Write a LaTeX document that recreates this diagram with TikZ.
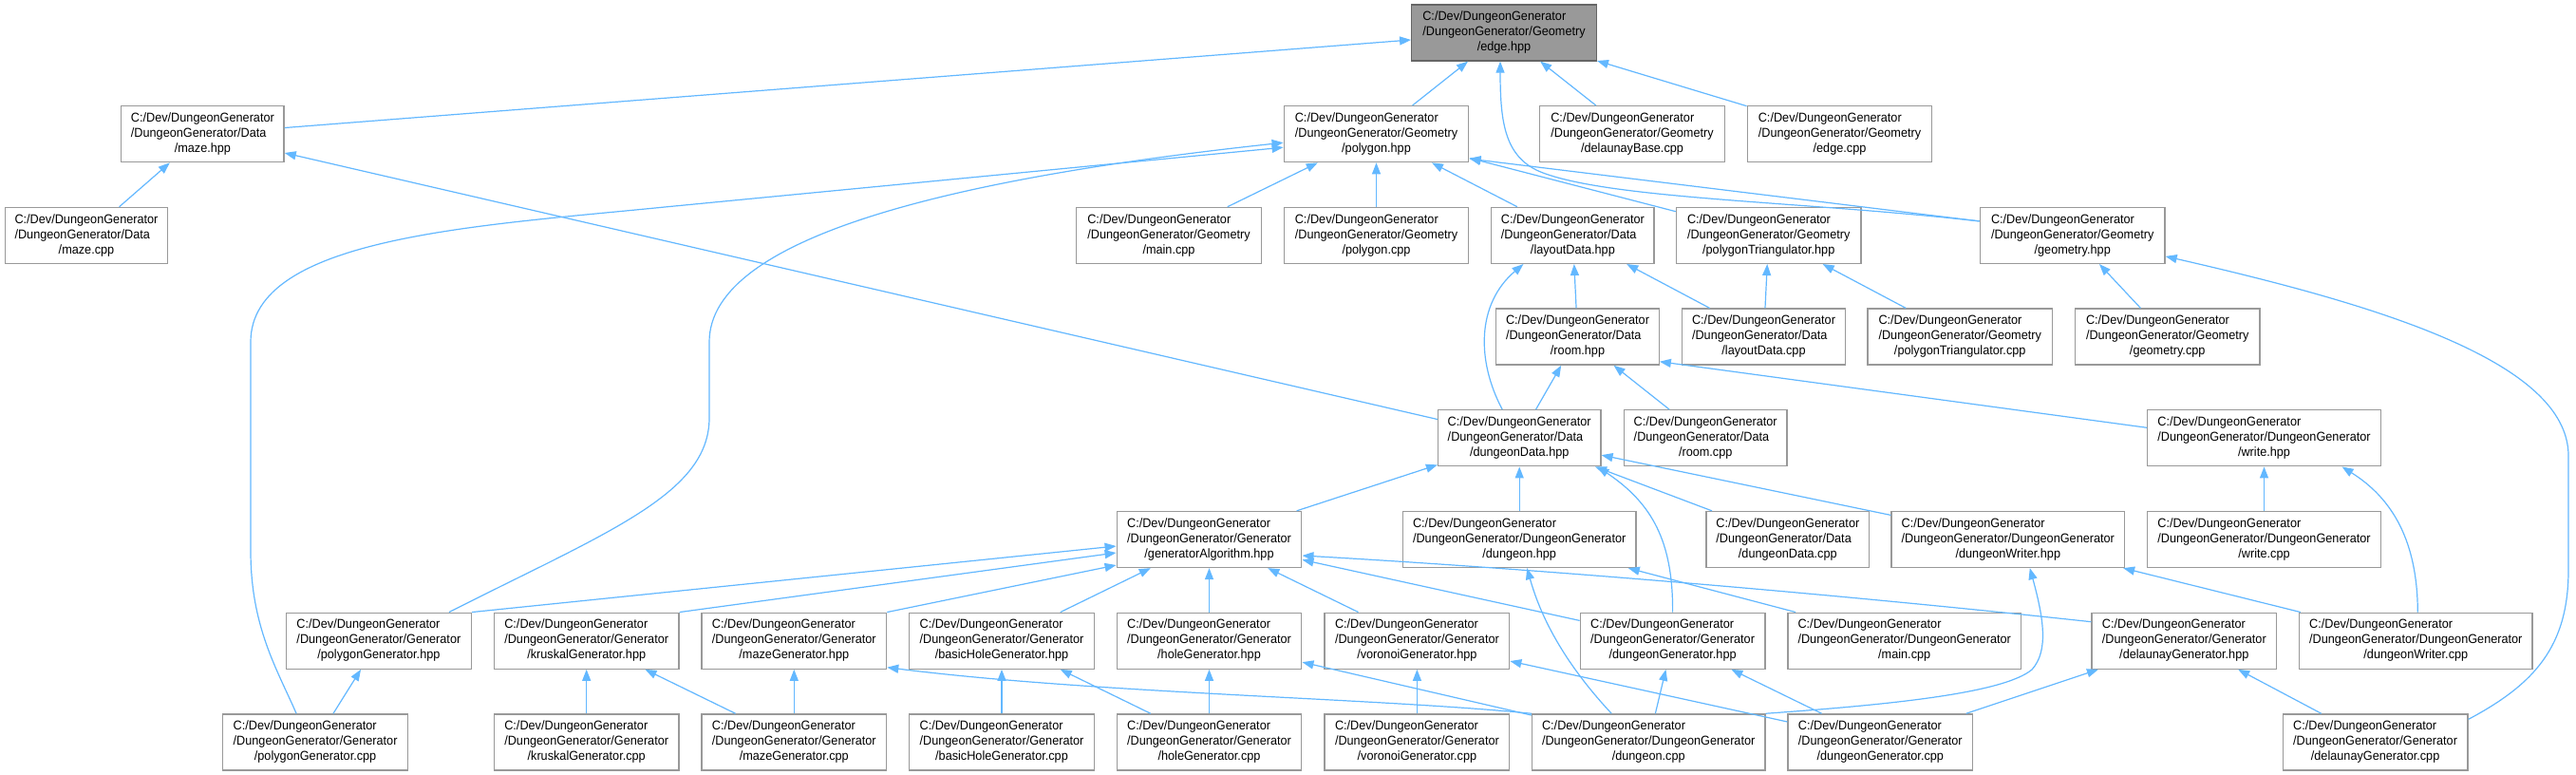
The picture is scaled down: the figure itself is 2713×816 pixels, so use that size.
\documentclass[tikz,border=0pt]{standalone}
\usepackage{fontspec}
\newfontfamily\dxfont[FakeStretch=0.94]{Liberation Sans}
\usetikzlibrary{arrows.meta}
\definecolor{edgeblue}{HTML}{63B8FF}
\definecolor{boxline}{HTML}{999999}
\definecolor{rootfill}{HTML}{999999}
\definecolor{rootline}{HTML}{666666}
\newcommand{\lab}[3]{\begin{tabular}{@{}l@{}}#1\\#2\\\multicolumn{1}{@{}c@{}}{#3}\end{tabular}}
\newcommand{\lgeo}[1]{\lab{C:/Dev/DungeonGenerator}{/DungeonGenerator/Geometry}{#1}}
\newcommand{\ldat}[1]{\lab{C:/Dev/DungeonGenerator}{/DungeonGenerator/Data}{#1}}
\newcommand{\lgen}[1]{\lab{C:/Dev/DungeonGenerator}{/DungeonGenerator/Generator}{#1}}
\newcommand{\ldg}[1]{\lab{C:/Dev/DungeonGenerator}{/DungeonGenerator/DungeonGenerator}{#1}}
\begin{document}
\begin{tikzpicture}[x=1pt,y=-1pt,
  box/.style={draw=boxline, line width=1.3pt, fill=white, minimum height=59pt, inner sep=0pt,
    font=\dxfont\fontsize{13.5}{16}\selectfont, text=black},
  bg/.style={box, minimum width=194.6pt},
  bd/.style={box, minimum width=171.4pt},
  bw/.style={box, minimum width=245.5pt},
  root/.style={fill=rootfill, draw=rootline},
  dep/.style={draw=edgeblue, line width=1.2pt, -{Triangle[length=12pt,width=9pt]}}]
\useasboundingbox[fill=white] (0,0) rectangle (2713,816);
% row 0
\node[bg,root] (edge) at (1584,34.5) {\lgeo{/edge.hpp}};
% row 1
\node[bd] (maze) at (213.4,141.2) {\ldat{/maze.hpp}};
\node[bg] (polygon) at (1449.5,141.2) {\lgeo{/polygon.hpp}};
\node[bg] (delaunayBase) at (1719,141.2) {\lgeo{/delaunayBase.cpp}};
\node[bg] (edgecpp) at (1937.5,141.2) {\lgeo{/edge.cpp}};
% row 2
\node[bd] (mazecpp) at (91,247.9) {\ldat{/maze.cpp}};
\node[bg] (gmain) at (1231,247.9) {\lgeo{/main.cpp}};
\node[bg] (polygoncpp) at (1449.5,247.9) {\lgeo{/polygon.cpp}};
\node[bd] (layout) at (1656.4,247.9) {\ldat{/layoutData.hpp}};
\node[bg] (polytri) at (1862.7,247.9) {\lgeo{/polygonTriangulator.hpp}};
\node[bg] (geometry) at (2182.7,247.9) {\lgeo{/geometry.hpp}};
% row 3
\node[bd] (room) at (1661.5,354.6) {\ldat{/room.hpp}};
\node[bd] (layoutcpp) at (1857.5,354.6) {\ldat{/layoutData.cpp}};
\node[bg] (polytricpp) at (2064.2,354.6) {\lgeo{/polygonTriangulator.cpp}};
\node[bg] (geometrycpp) at (2282.7,354.6) {\lgeo{/geometry.cpp}};
% row 4
\node[bd] (ddata) at (1600.2,461.3) {\ldat{/dungeonData.hpp}};
\node[bd] (roomcpp) at (1796.2,461.3) {\ldat{/room.cpp}};
\node[bw] (write) at (2384.5,461.3) {\ldg{/write.hpp}};
% row 5
\node[bg] (genalg) at (1273.5,568) {\lgen{/generatorAlgorithm.hpp}};
\node[bw] (dungeon) at (1600.2,568) {\ldg{/dungeon.hpp}};
\node[bd] (ddatacpp) at (1882.8,568) {\ldat{/dungeonData.cpp}};
\node[bw] (dwriter) at (2114.8,568) {\ldg{/dungeonWriter.hpp}};
\node[bw] (writecpp) at (2384.5,568) {\ldg{/write.cpp}};
% row 6
\node[bg] (polygen) at (398.9,674.7) {\lgen{/polygonGenerator.hpp}};
\node[bg] (kruskal) at (617.7,674.7) {\lgen{/kruskalGenerator.hpp}};
\node[bg] (mazegen) at (836.3,674.7) {\lgen{/mazeGenerator.hpp}};
\node[bg] (basichole) at (1055,674.7) {\lgen{/basicHoleGenerator.hpp}};
\node[bg] (hole) at (1273.5,674.7) {\lgen{/holeGenerator.hpp}};
\node[bg] (voronoi) at (1492.4,674.7) {\lgen{/voronoiGenerator.hpp}};
\node[bg] (dgen) at (1761.6,674.7) {\lgen{/dungeonGenerator.hpp}};
\node[bw] (dgmain) at (2005.7,674.7) {\ldg{/main.cpp}};
\node[bg] (delaunay) at (2300.3,674.7) {\lgen{/delaunayGenerator.hpp}};
\node[bw] (dwritercpp) at (2544.3,674.7) {\ldg{/dungeonWriter.cpp}};
% row 7
\node[bg] (polygencpp) at (332.1,781.4) {\lgen{/polygonGenerator.cpp}};
\node[bg] (kruskalcpp) at (617.7,781.4) {\lgen{/kruskalGenerator.cpp}};
\node[bg] (mazegencpp) at (836.3,781.4) {\lgen{/mazeGenerator.cpp}};
\node[bg] (basicholecpp) at (1055,781.4) {\lgen{/basicHoleGenerator.cpp}};
\node[bg] (holecpp) at (1273.5,781.4) {\lgen{/holeGenerator.cpp}};
\node[bg] (voronoicpp) at (1492.4,781.4) {\lgen{/voronoiGenerator.cpp}};
\node[bw] (dungeoncpp) at (1736.2,781.4) {\ldg{/dungeon.cpp}};
\node[bg] (dgencpp) at (1980.3,781.4) {\lgen{/dungeonGenerator.cpp}};
\node[bg] (delaunaycpp) at (2501.6,781.4) {\lgen{/delaunayGenerator.cpp}};

% edges into edge.hpp
\draw[dep] (maze) -- (edge);
\draw[dep] (polygon) -- (edge);
\draw[dep] (delaunayBase) -- (edge);
\draw[dep] (edgecpp) -- (edge);
\draw[dep] ([yshift=15pt]geometry.west) .. controls (1900,212) and (1700,210) .. (1625,182)
  .. controls (1585,167) and (1580,130) .. ([xshift=-4pt]edge.south);
% maze.hpp
\draw[dep] (mazecpp) -- (maze);
\draw[dep] (ddata) -- (maze);
% polygon.hpp
\draw[dep] (gmain) -- (polygon);
\draw[dep] (polygoncpp) -- (polygon);
\draw[dep] (layout) -- (polygon);
\draw[dep] (polytri) -- (polygon);
\draw[dep] ([yshift=15pt]geometry.west) -- ([yshift=-26pt]polygon.east);
\draw[dep] ([xshift=74pt]polygen.north) .. controls (640,560) and (747,520) .. (747,440)
  -- (747,360) .. controls (747,250) and (1000,188) .. ([yshift=-9pt]polygon.west);
\draw[dep] ([xshift=-20pt]polygencpp.north) .. controls (292,705) and (264,660) .. (264,580)
  -- (264,360) .. controls (264,250) and (500,238) .. (700,218) -- ([yshift=-14pt]polygon.west);
% layoutData.hpp
\draw[dep] (room) -- (layout);
\draw[dep] (layoutcpp) -- (layout);
\draw[dep] ([xshift=-18pt]ddata.north) .. controls (1555,380) and (1555,320) .. ([xshift=-52pt]layout.south);
% polygonTriangulator.hpp
\draw[dep] (layoutcpp) -- (polytri);
\draw[dep] (polytricpp) -- (polytri);
% geometry.hpp
\draw[dep] (geometrycpp) -- (geometry);
\draw[dep] ([yshift=24pt]delaunaycpp.east) .. controls (2670,720) and (2705,680) .. (2705,600)
  -- (2705,480) .. controls (2705,380) and (2500,320) .. ([yshift=-22pt]geometry.east);
% room.hpp
\draw[dep] (ddata) -- (room);
\draw[dep] (roomcpp) -- (room);
\draw[dep] ([yshift=11pt]write.west) -- ([yshift=4pt]room.south east);
% dungeonData.hpp
\draw[dep] (genalg) -- (ddata);
\draw[dep] (dungeon) -- (ddata);
\draw[dep] (ddatacpp) -- (ddata);
\draw[dep] (dwriter) -- (ddata);
\draw[dep] (dgen.north) .. controls (1762,570) and (1740,530) .. ([xshift=-4pt]ddata.south east);
% write.hpp
\draw[dep] (writecpp) -- (write);
\draw[dep] ([xshift=2pt]dwritercpp.north) .. controls (2546,570) and (2520,525) .. ([xshift=82pt]write.south);
% generatorAlgorithm.hpp
\draw[dep] (polygen.north east) -- ([yshift=-7pt]genalg.west);
\draw[dep] (kruskal.north east) -- ([yshift=-14pt]genalg.west);
\draw[dep] (mazegen.north east) -- ([yshift=-27pt]genalg.west);
\draw[dep] (basichole) -- (genalg);
\draw[dep] (hole) -- (genalg);
\draw[dep] (voronoi) -- (genalg);
\draw[dep] (dgen) -- (genalg);
\draw[dep] ([yshift=20pt]delaunay.west) .. controls (1900,622) and (1600,598) .. ([yshift=-17pt]genalg.east);
% dungeon.hpp
\draw[dep] ([xshift=-39pt]dungeoncpp.north) .. controls (1640,690) and (1620,640) .. ([xshift=8pt]dungeon.south);
\draw[dep] (dgmain) -- (dungeon);
% dungeonWriter.hpp
\draw[dep] (dungeoncpp.north east) .. controls (1990,742) and (2110,730) .. (2140,705)
  .. controls (2158,685) and (2152,650) .. ([xshift=23pt]dwriter.south);
\draw[dep] (dwritercpp) -- (dwriter);
% generator headers
\draw[dep] (polygencpp) -- (polygen);
\draw[dep] (kruskalcpp) -- (kruskal);
\draw[dep] (mazegencpp) -- (kruskal);
\draw[dep] (mazegencpp) -- (mazegen);
\draw[dep] (dungeoncpp.north west) .. controls (1450,735) and (1150,730) .. ([yshift=-28pt]mazegen.east);
\draw[dep] (basicholecpp) -- (basichole);
\draw[dep] (holecpp) -- (basichole);
\draw[dep] (holecpp) -- (hole);
\draw[dep] (dungeoncpp) -- (hole);
\draw[dep] (voronoicpp) -- (voronoi);
\draw[dep] (dgencpp) -- (voronoi);
\draw[dep] (dungeoncpp) -- (dgen);
\draw[dep] (dgencpp) -- (dgen);
\draw[dep] (dgencpp) -- (delaunay);
\draw[dep] (delaunaycpp) -- (delaunay);
\end{tikzpicture}
\end{document}
